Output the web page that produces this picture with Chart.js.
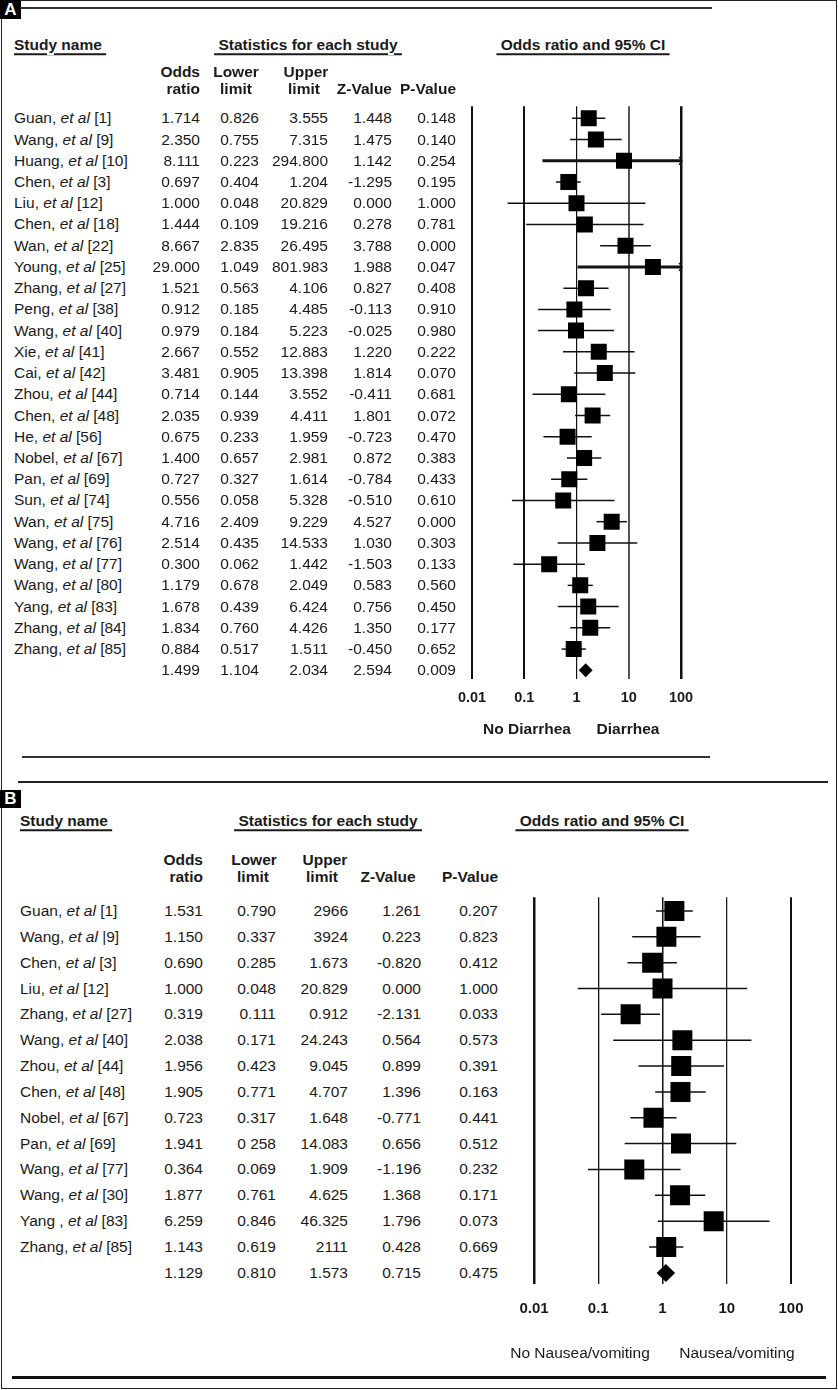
<!DOCTYPE html>
<html>
<head>
<meta charset="utf-8">
<script src="https://cdn.jsdelivr.net/npm/chart.js@4.4.1/dist/chart.umd.min.js"></script>
<style>
  html, body { margin: 0; padding: 0; background: #fff; }
  #page { position: relative; width: 838px; height: 1390px; overflow: hidden;
          font-family: "Liberation Sans", Arial, sans-serif; color: #1a1a1a; font-size: 15.5px; }
  .t { position: absolute; white-space: nowrap; line-height: 1; }
  .b { font-weight: bold; }
  .u { text-decoration: underline; text-decoration-thickness: 2px; text-underline-offset: 3px; }
  .ln { position: absolute; background: #333; }
  .tag { position: absolute; background: #000; color: #fff; font-weight: bold; font-size: 17px;
         line-height: 19px; text-align: center; }
  .frame { position: absolute; left: 1px; top: 0; width: 836px; height: 1389px;
           border: 1.5px solid #222; box-sizing: border-box; }
  canvas { position: absolute; }
</style>
</head>
<body>
<div id="page">
  <div class="frame"></div>
  <div class="tag" style="left:0;top:0;width:21px;height:19px;">A</div>
  <div class="ln" style="left:20px;top:7px;width:692px;height:1.5px;"></div>
  <div class="ln" style="left:22px;top:756px;width:688px;height:1.5px;"></div>
  <div class="ln" style="left:18px;top:781px;width:810px;height:1.5px;background:#222;"></div>
  <div class="tag" style="left:0;top:790px;width:21px;height:18px;line-height:18px;">B</div>
  <div class="ln" style="left:12px;top:1376px;width:814px;height:3px;background:#111;"></div>
  <canvas id="forestA" width="280" height="651" style="left:440px;top:95px;"></canvas>
  <canvas id="forestB" width="330" height="472" style="left:500px;top:883px;"></canvas>
</div>
<script>
// ---- Panel A: diarrhea ----
const studiesA = ['Guan, et al [1]', 'Wang, et al [9]', 'Huang, et al [10]', 'Chen, et al [3]',
  'Liu, et al [12]', 'Chen, et al [18]', 'Wan, et al [22]', 'Young, et al [25]', 'Zhang, et al [27]',
  'Peng, et al [38]', 'Wang, et al [40]', 'Xie, et al [41]', 'Cai, et al [42]', 'Zhou, et al [44]',
  'Chen, et al [48]', 'He, et al [56]', 'Nobel, et al [67]', 'Pan, et al [69]', 'Sun, et al [74]',
  'Wan, et al [75]', 'Wang, et al [76]', 'Wang, et al [77]', 'Wang, et al [80]', 'Yang, et al [83]',
  'Zhang, et al [84]', 'Zhang, et al [85]', ''];
const oddsA  = [1.714, 2.350, 8.111, 0.697, 1.000, 1.444, 8.667, 29.000, 1.521, 0.912, 0.979, 2.667, 3.481,
  0.714, 2.035, 0.675, 1.400, 0.727, 0.556, 4.716, 2.514, 0.300, 1.179, 1.678, 1.834, 0.884, 1.499];
const lowerA = [0.826, 0.755, 0.223, 0.404, 0.048, 0.109, 2.835, 1.049, 0.563, 0.185, 0.184, 0.552, 0.905,
  0.144, 0.939, 0.233, 0.657, 0.327, 0.058, 2.409, 0.435, 0.062, 0.678, 0.439, 0.760, 0.517, 1.104];
const upperA = [3.555, 7.315, 294.800, 1.204, 20.829, 19.216, 26.495, 801.983, 4.106, 4.485, 5.223, 12.883,
  13.398, 3.552, 4.411, 1.959, 2.981, 1.614, 5.328, 9.229, 14.533, 1.442, 2.049, 6.424, 4.426, 1.511, 2.034];
const zA = [1.448, 1.475, 1.142, -1.295, 0.000, 0.278, 3.788, 1.988, 0.827, -0.113, -0.025, 1.220, 1.814,
  -0.411, 1.801, -0.723, 0.872, -0.784, -0.510, 4.527, 1.030, -1.503, 0.583, 0.756, 1.350, -0.450, 2.594];
const pA = [0.148, 0.140, 0.254, 0.195, 1.000, 0.781, 0.000, 0.047, 0.408, 0.910, 0.980, 0.222, 0.070,
  0.681, 0.072, 0.470, 0.383, 0.433, 0.610, 0.000, 0.303, 0.133, 0.560, 0.450, 0.177, 0.652, 0.009];

// ---- Panel B: nausea/vomiting ----
const studiesB = ['Guan, et al [1]', 'Wang, et al |9]', 'Chen, et al [3]', 'Liu, et al [12]',
  'Zhang, et al [27]', 'Wang, et al [40]', 'Zhou, et al [44]', 'Chen, et al [48]', 'Nobel, et al [67]',
  'Pan, et al [69]', 'Wang, et al [77]', 'Wang, et al [30]', 'Yang , et al [83]', 'Zhang, et al [85]', ''];
const oddsB  = [1.531, 1.150, 0.690, 1.000, 0.319, 2.038, 1.956, 1.905, 0.723, 1.941, 0.364, 1.877, 6.259, 1.143, 1.129];
const lowerB = [0.790, 0.337, 0.285, 0.048, 0.111, 0.171, 0.423, 0.771, 0.317, 0.258, 0.069, 0.761, 0.846, 0.619, 0.810];
const upperB = [2.966, 3.924, 1.673, 20.829, 0.912, 24.243, 9.045, 4.707, 1.648, 14.083, 1.909, 4.625, 46.325, 2.111, 1.573];
const zB = [1.261, 0.223, -0.820, 0.000, -2.131, 0.564, 0.899, 1.396, -0.771, 0.656, -1.196, 1.368, 1.796, 0.428, 0.715];
const pB = [0.207, 0.823, 0.412, 1.000, 0.033, 0.573, 0.391, 0.163, 0.441, 0.512, 0.232, 0.171, 0.073, 0.669, 0.475];
// cells printed differently in the source table
const upperTextB = {0: '2966', 1: '3924', 13: '2111'};
const lowerTextB = {9: '0 258'};

const tickValues = [0.01, 0.1, 1, 10, 100];

Chart.defaults.font.family = '"Liberation Sans", Arial, sans-serif';
Chart.defaults.color = '#1a1a1a';

const page = document.getElementById('page');

function put(html, x, y, align, cls, size) {
  const d = document.createElement('div');
  d.className = 't ' + (cls || '');
  d.innerHTML = html;
  d.style.left = x + 'px';
  d.style.top = y + 'px';
  const tx = align === 'r' ? '-100%' : align === 'c' ? '-50%' : '0';
  d.style.transform = 'translate(' + tx + ',-50%)';
  if (size) d.style.fontSize = size + 'px';
  page.appendChild(d);
}

const forestPlugin = {
  id: 'forest',
  beforeDatasetsDraw(chart, args, o) {
    const { ctx, scales: { x, y } } = chart;
    const n = o.lower.length;
    ctx.save();
    ctx.strokeStyle = '#111';
    ctx.fillStyle = '#000';
    for (let i = 0; i < n - 1; i++) {
      const cut = o.upper[i] > x.max;
      const py = y.getPixelForValue(i);
      const x1 = x.getPixelForValue(Math.max(o.lower[i], x.min));
      const x2 = x.getPixelForValue(Math.min(o.upper[i], x.max));
      ctx.lineWidth = cut ? 3 : 1.5;
      ctx.beginPath();
      ctx.moveTo(x1, py);
      ctx.lineTo(x2, py);
      ctx.stroke();
      if (cut) {
        ctx.lineWidth = 1.2;
        ctx.beginPath();
        ctx.moveTo(x2 - 2, py - 4);
        ctx.lineTo(x2 + 1, py);
        ctx.lineTo(x2 - 2, py + 4);
        ctx.stroke();
      }
    }
    // pooled estimate diamond
    const k = n - 1;
    const py = y.getPixelForValue(k);
    ctx.beginPath();
    ctx.moveTo(x.getPixelForValue(o.lower[k]), py);
    ctx.lineTo(x.getPixelForValue(o.odds[k]), py - o.dh);
    ctx.lineTo(x.getPixelForValue(o.upper[k]), py);
    ctx.lineTo(x.getPixelForValue(o.odds[k]), py + o.dh);
    ctx.closePath();
    ctx.fill();
    ctx.restore();
  }
};

function forest(cfg) {
  const n = cfg.odds.length;
  const pts = cfg.odds.slice(0, n - 1).map((v, i) => ({ x: v, y: i }));
  return new Chart(document.getElementById(cfg.id), {
    type: 'scatter',
    data: {
      datasets: [{
        data: pts,
        pointStyle: 'rect',
        pointRadius: cfg.side / Math.SQRT2,
        backgroundColor: '#000',
        borderColor: '#000',
        borderWidth: 0
      }]
    },
    options: {
      responsive: false,
      animation: false,
      events: [],
      layout: { padding: cfg.padding },
      scales: {
        x: {
          type: 'logarithmic',
          min: 0.01,
          max: 100,
          afterBuildTicks: (s) => { s.ticks = tickValues.map(v => ({ value: v, major: true })); },
          ticks: {
            callback: (v) => String(v),
            autoSkip: false,
            maxRotation: 0,
            padding: cfg.tickPad,
            color: '#1a1a1a',
            font: { size: cfg.tickSize, weight: 'bold' }
          },
          grid: {
            drawTicks: false,
            color: (c) => cfg.gridColor[c.index] || '#111',
            lineWidth: (c) => cfg.gridWidth[c.index] || 1
          },
          border: { display: false }
        },
        y: {
          type: 'linear',
          min: cfg.yMin,
          max: cfg.yMax,
          reverse: true,
          display: false
        }
      },
      plugins: {
        legend: { display: false },
        tooltip: { enabled: false },
        forest: { odds: cfg.odds, lower: cfg.lower, upper: cfg.upper, dh: cfg.dh }
      }
    },
    plugins: [forestPlugin]
  });
}

const fmt = (v) => v.toFixed(3);
const nameHtml = (s) => s.replace('et al', '<i>et al</i>');

// ----- chart A -----
const chartA = forest({
  id: 'forestA', odds: oddsA, lower: lowerA, upper: upperA,
  padding: { left: 32, right: 39, top: 10, bottom: 29.6 },
  yMin: -0.565, yMax: 26.41, side: 16, dh: 7, tickSize: 14.5, tickPad: 10,
  gridColor: ['#111', '#111', '#111', '#555', '#111'],
  gridWidth: [2, 2, 1.2, 2, 2.5]
});
{
  const top = 95;
  const yA = (i) => top + chartA.scales.y.getPixelForValue(i);
  const rights = [200, 259, 328, 392, 456];
  const cols = [oddsA, lowerA, upperA, zA, pA];
  for (let i = 0; i < oddsA.length; i++) {
    const y = yA(i);
    if (studiesA[i]) put(nameHtml(studiesA[i]), 14, y, 'l');
    cols.forEach((c, j) => put(fmt(c[i]), rights[j], y, 'r'));
  }
  put('Study name\u00a0', 14, 44.5, 'l', 'b u');
  put('\u00a0Statistics for each study\u00a0', 308, 44.5, 'c', 'b u');
  put('\u00a0Odds ratio and 95% CI\u00a0', 583, 44.5, 'c', 'b u');
  put('Odds', 200, 72, 'r', 'b');
  put('ratio', 200, 89, 'r', 'b');
  put('Lower', 236, 72, 'c', 'b');
  put('limit', 236, 89, 'c', 'b');
  put('Upper', 306, 72, 'c', 'b');
  put('limit', 304, 89, 'c', 'b');
  put('Z-Value', 392, 89, 'r', 'b');
  put('P-Value', 456, 89, 'r', 'b');
  put('No Diarrhea', 527, 729, 'c', 'b');
  put('Diarrhea', 628, 729, 'c', 'b');
}

// ----- chart B -----
const chartB = forest({
  id: 'forestB', odds: oddsB, lower: lowerB, upper: upperB,
  padding: { left: 34, right: 39, top: 10, bottom: 21 },
  yMin: -0.534, yMax: 14.43, side: 20, dh: 9, tickSize: 15, tickPad: 16,
  gridColor: ['#111', '#111', '#111', '#222', '#111'],
  gridWidth: [2.5, 1.3, 1.5, 1.3, 2]
});
{
  const top = 883;
  const yB = (i) => top + chartB.scales.y.getPixelForValue(i);
  const rights = [203, 276, 348, 421, 498];
  for (let i = 0; i < oddsB.length; i++) {
    const y = yB(i);
    if (studiesB[i]) put(nameHtml(studiesB[i]), 20, y, 'l');
    put(fmt(oddsB[i]), rights[0], y, 'r');
    put(lowerTextB[i] || fmt(lowerB[i]), rights[1], y, 'r');
    put(upperTextB[i] || fmt(upperB[i]), rights[2], y, 'r');
    put(fmt(zB[i]), rights[3], y, 'r');
    put(fmt(pB[i]), rights[4], y, 'r');
  }
  put('Study name\u00a0', 20, 821, 'l', 'b u');
  put('\u00a0Statistics for each study\u00a0', 328, 821, 'c', 'b u');
  put('\u00a0Odds ratio and 95% CI\u00a0', 602, 821, 'c', 'b u');
  put('Odds', 203, 860, 'r', 'b');
  put('ratio', 203, 877, 'r', 'b');
  put('Lower', 254, 860, 'c', 'b');
  put('limit', 253, 877, 'c', 'b');
  put('Upper', 325, 860, 'c', 'b');
  put('limit', 322, 877, 'c', 'b');
  put('Z-Value', 388, 877, 'c', 'b');
  put('P-Value', 470, 877, 'c', 'b');
  put('No Nausea/vomiting', 580, 1353, 'c', '', 15.5);
  put('Nausea/vomiting', 737, 1353, 'c', '', 15.5);
}
</script>
</body>
</html>
